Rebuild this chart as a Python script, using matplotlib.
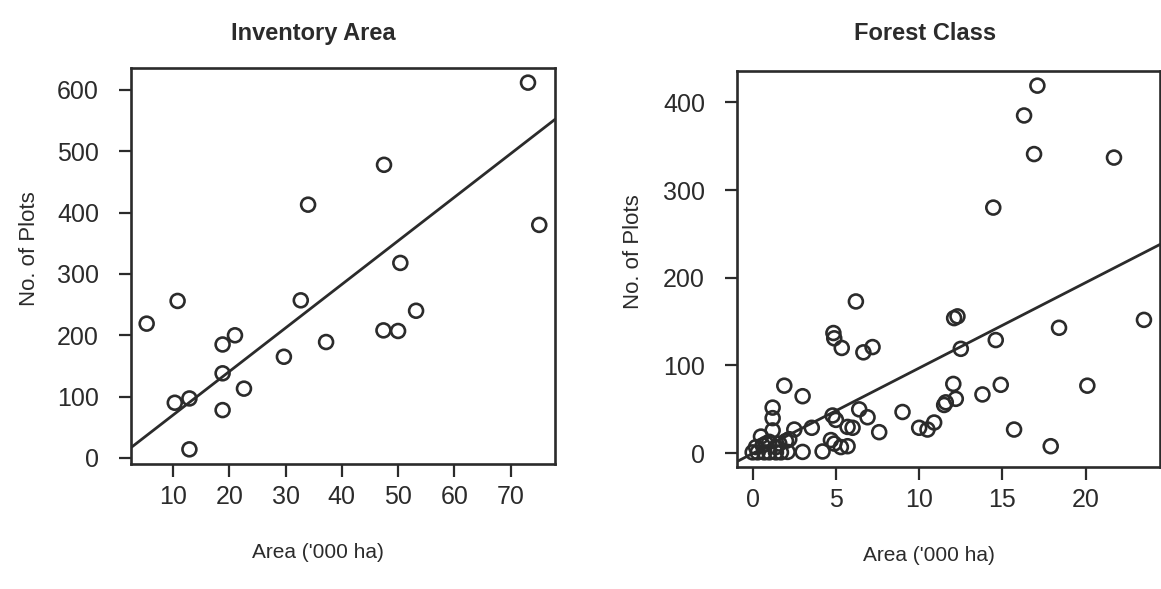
import numpy as np
import matplotlib
matplotlib.use('Agg')
import matplotlib.pyplot as plt

plt.rcParams['font.family'] = ['Liberation Sans', 'DejaVu Sans']

# inventory areas ('000 ha) and plot counts
inv_area = [73.1, 47.5, 34.0, 75.1, 50.4, 10.8, 32.7, 53.2, 5.3, 47.4, 50.0,
            21.0, 18.8, 37.2, 29.7, 18.8, 22.6, 12.9, 10.3, 18.8, 12.9]
inv_plots = [612, 478, 413, 380, 318, 256, 257, 240, 219, 208, 207,
             200, 185, 189, 165, 138, 113, 97, 90, 78, 14]
inv_fit = (-1.0, 7.1)   # intercept, slope

# forest classes
fc_area = [17.1, 16.3, 16.9, 21.7, 14.45, 6.2, 12.1, 12.3, 23.5, 18.4, 4.85,
           4.9, 14.6, 5.35, 7.2, 12.5, 6.65, 12.05, 14.9, 20.1, 1.9, 13.8,
           3.0, 12.2, 11.5, 11.6, 1.2, 6.4, 9.0, 4.8, 6.9, 1.2, 5.0, 10.9,
           5.7, 3.55, 6.0, 10.0, 2.5, 10.5, 15.7, 1.2, 7.6, 0.5, 2.2, 4.7,
           2.0, 4.9, 1.6, 0.8, 1.0, 0.6, 17.9, 5.3, 5.7, 1.4, 0.2, 0.0, 0.3,
           0.7, 1.0, 1.4, 1.7, 2.1, 3.0, 4.2]
fc_plots = [419, 385, 341, 337, 280, 173, 154, 156, 152, 143, 137,
            131, 129, 120, 121, 119, 115, 79, 78, 77, 77, 67,
            65, 62, 55, 58, 52, 50, 47, 43, 41, 40, 38, 35,
            30, 29, 29, 29, 27, 27, 27, 26, 24, 19, 16, 15,
            14, 11, 11, 11, 13, 9, 8, 7, 8, 7, 7, 1, 1,
            1, 1, 1, 1, 1.5, 1.5, 2]
fc_fit = (-0.3, 9.74)

ink = '#2b2b2b'


def rlim(v):
    lo, hi = min(v), max(v)
    pad = 0.04 * (hi - lo)
    return lo - pad, hi + pad


def panel(ax, x, y, fit, title, xticks, yticks, tx, tpad, lx, ly):
    xl = rlim(x)
    yl = rlim(y)
    xs = np.array(xl)
    ax.plot(xs, fit[0] + fit[1] * xs, color=ink, lw=2)
    ax.scatter(x, y, s=100, facecolors='none', edgecolors=ink, linewidths=1.9, zorder=3)
    ax.set_xlim(xl)
    ax.set_ylim(yl)
    ax.set_xticks(xticks)
    ax.set_yticks(yticks)
    ax.tick_params(direction='out', length=9, width=1.6, colors=ink, labelsize=18)
    ax.tick_params(axis='y', pad=14)
    ax.tick_params(axis='x', pad=6)
    for s in ax.spines.values():
        s.set_linewidth(1.9)
        s.set_color(ink)
    ax.set_title(title, fontsize=17, fontweight='bold', color=ink, x=tx, pad=tpad)
    ax.set_xlabel("Area ('000 ha)", fontsize=15, color=ink)
    ax.xaxis.set_label_coords(lx, -0.2)
    ax.set_ylabel('No. of Plots', fontsize=16, color=ink)
    ax.yaxis.set_label_coords(ly, 0.545)


fig = plt.figure(figsize=(11.61, 5.89), dpi=100)
ax1 = fig.add_axes([0.1128, 0.2122, 0.3652, 0.6724])
ax2 = fig.add_axes([0.6348, 0.2071, 0.3640, 0.6724])

panel(ax1, inv_area, inv_plots, inv_fit, 'Inventory Area',
      [10, 20, 30, 40, 50, 60, 70], [0, 100, 200, 300, 400, 500, 600],
      0.43, 20, 0.44, -0.215)
panel(ax2, fc_area, fc_plots, fc_fit, 'Forest Class',
      [0, 5, 10, 15, 20], [0, 100, 200, 300, 400],
      0.445, 22, 0.455, -0.22)

fig.savefig('out.png', dpi=100)
